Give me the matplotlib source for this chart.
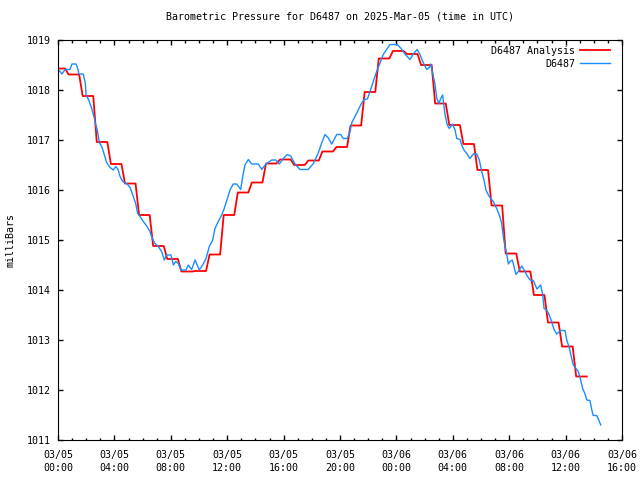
import datetime as dt
import matplotlib
matplotlib.use('Agg')
import matplotlib.pyplot as plt
import matplotlib.dates as mdates

# hourly analysis values (hour 0 .. 37 after 2025-03-05 00:00 UTC)
analysis_mb = [1018.43, 1018.31, 1017.88, 1016.96, 1016.52, 1016.13, 1015.50, 1014.88,
               1014.62, 1014.37, 1014.38, 1014.71, 1015.50, 1015.95, 1016.15, 1016.53,
               1016.61, 1016.50, 1016.59, 1016.77, 1016.86, 1017.29, 1017.96, 1018.63,
               1018.78, 1018.72, 1018.50, 1017.73, 1017.30, 1016.92, 1016.40, 1015.69,
               1014.73, 1014.37, 1013.90, 1013.35, 1012.87, 1012.27]

# station observations: hours after 2025-03-05 00:00 UTC, pressure in mb
obs_hours = [0.02, 0.28, 0.50, 0.85, 0.99, 1.28, 1.42, 1.47, 1.79, 1.94, 1.99, 2.18,
             2.39, 2.55, 2.67, 2.79, 2.93, 3.10, 3.26, 3.45, 3.69, 3.92, 4.09, 4.26,
             4.40, 4.59, 4.91, 5.11, 5.34, 5.51, 5.65, 5.82, 6.05, 6.29, 6.52, 6.69,
             6.88, 7.11, 7.35, 7.54, 7.71, 8.01, 8.18, 8.35, 8.53, 8.72, 9.08, 9.24,
             9.48, 9.72, 10.02, 10.26, 10.50, 10.73, 10.97, 11.13, 11.37, 11.61, 11.79, 12.01,
             12.20, 12.43, 12.67, 12.96, 13.10, 13.26, 13.50, 13.74, 14.21, 14.45, 14.75, 15.16,
             15.46, 15.70, 15.98, 16.26, 16.50, 16.81, 17.16, 17.75, 18.11, 18.46, 18.70, 18.94,
             19.17, 19.41, 19.77, 20.05, 20.23, 20.52, 20.71, 20.83, 21.06, 21.30, 21.54, 21.72,
             21.94, 22.13, 22.36, 22.60, 22.84, 23.07, 23.31, 23.55, 24.06, 24.30, 24.61, 24.96,
             25.25, 25.48, 25.67, 25.91, 26.15, 26.33, 26.43, 26.57, 26.74, 26.86, 27.02, 27.14,
             27.28, 27.45, 27.61, 27.75, 27.99, 28.16, 28.28, 28.51, 28.63, 28.79, 28.99, 29.22,
             29.45, 29.70, 29.88, 30.05, 30.21, 30.35, 30.52, 30.69, 30.87, 31.11, 31.30, 31.47,
             31.58, 31.70, 31.82, 31.94, 32.06, 32.22, 32.34, 32.48, 32.65, 32.89, 33.12, 33.28,
             33.48, 33.71, 33.97, 34.23, 34.38, 34.47, 34.66, 34.84, 35.01, 35.18, 35.37, 35.65,
             35.96, 36.08, 36.26, 36.43, 36.55, 36.74, 36.90, 37.07, 37.21, 37.38, 37.50, 37.73,
             37.85, 37.96, 38.21, 38.35, 38.49]
obs_mb = [1018.41, 1018.32, 1018.41, 1018.41, 1018.52, 1018.52, 1018.41, 1018.32, 1018.32, 1018.13, 1017.90, 1017.80,
          1017.63, 1017.47, 1017.31, 1017.20, 1016.95, 1016.87, 1016.73, 1016.55, 1016.45, 1016.40, 1016.47, 1016.41,
          1016.27, 1016.17, 1016.12, 1016.05, 1015.87, 1015.73, 1015.53, 1015.47, 1015.37, 1015.28, 1015.17, 1015.03,
          1014.93, 1014.87, 1014.77, 1014.60, 1014.70, 1014.70, 1014.50, 1014.57, 1014.53, 1014.40, 1014.40, 1014.50,
          1014.41, 1014.60, 1014.40, 1014.50, 1014.63, 1014.87, 1015.00, 1015.23, 1015.37, 1015.50, 1015.63, 1015.83,
          1016.00, 1016.12, 1016.12, 1016.01, 1016.27, 1016.50, 1016.61, 1016.52, 1016.52, 1016.41, 1016.52, 1016.60,
          1016.60, 1016.52, 1016.63, 1016.71, 1016.68, 1016.52, 1016.41, 1016.41, 1016.53, 1016.74, 1016.94, 1017.11,
          1017.04, 1016.92, 1017.11, 1017.11, 1017.03, 1017.03, 1017.17, 1017.34, 1017.47, 1017.61, 1017.74, 1017.81,
          1017.82, 1017.97, 1018.17, 1018.37, 1018.54, 1018.71, 1018.81, 1018.91, 1018.91, 1018.84, 1018.72, 1018.61,
          1018.74, 1018.81, 1018.71, 1018.54, 1018.41, 1018.45, 1018.52, 1018.34, 1018.11, 1017.84, 1017.73, 1017.83,
          1017.90, 1017.50, 1017.30, 1017.23, 1017.32, 1017.20, 1017.03, 1017.01, 1016.90, 1016.80, 1016.73, 1016.63,
          1016.72, 1016.72, 1016.60, 1016.37, 1016.20, 1016.00, 1015.90, 1015.83, 1015.77, 1015.63, 1015.50, 1015.33,
          1015.07, 1014.87, 1014.73, 1014.52, 1014.57, 1014.60, 1014.47, 1014.31, 1014.37, 1014.48, 1014.37, 1014.28,
          1014.20, 1014.19, 1014.02, 1014.10, 1013.90, 1013.63, 1013.60, 1013.50, 1013.37, 1013.21, 1013.12, 1013.19,
          1013.19, 1013.00, 1012.85, 1012.63, 1012.50, 1012.43, 1012.37, 1012.20, 1012.03, 1011.92, 1011.80, 1011.79,
          1011.61, 1011.49, 1011.49, 1011.40, 1011.30]

start = dt.datetime(2025, 3, 5, 0, 0)
station = 'D6487'

# analysis: each hourly value held from h-0.25 to h+0.5 (ramps between)
an_t, an_v = [], []
for i, v in enumerate(analysis_mb):
    for h in (max(i - 0.25, 0), i + 0.5):
        an_t.append(start + dt.timedelta(hours=h))
        an_v.append(v)
obs_t = [start + dt.timedelta(hours=h) for h in obs_hours]

plt.rcParams['font.family'] = ['DejaVu Sans Mono']
plt.rcParams['font.size'] = 7.2

fig = plt.figure(figsize=(6.4, 4.8), dpi=100)
ax = fig.add_axes([58 / 640, 40 / 480, 564 / 640, 400 / 480])

ax.plot(an_t, an_v, color='#ff0000', linewidth=1.3, label=f'{station} Analysis')
ax.plot(obs_t, obs_mb, color='#1a8cff', linewidth=1.0, label=station)

ax.set_xlim(start, start + dt.timedelta(hours=40))
ax.set_ylim(1011, 1019)
ax.set_yticks(range(1011, 1020))
ax.xaxis.set_major_locator(mdates.HourLocator(byhour=range(0, 24, 4)))
ax.xaxis.set_minor_locator(mdates.HourLocator())
ax.xaxis.set_major_formatter(mdates.DateFormatter('%m/%d\n%H:%M'))
ax.tick_params(which='both', direction='in', top=True, right=True, colors='black',
               labelsize=7.2)
ax.tick_params(which='major', length=3.3, width=1)
ax.tick_params(which='minor', length=1.8, width=1)
ax.tick_params(axis='x', pad=7)
ax.tick_params(axis='y', pad=5)

ax.set_ylabel('milliBars', fontsize=7.2, labelpad=8)
ax.set_title(f'Barometric Pressure for {station} on 2025-Mar-05 (time in UTC)',
             fontsize=7.2, pad=15)
ax.legend(loc='upper right', bbox_to_anchor=(0.986, 0.995), frameon=False, markerfirst=False,
          handlelength=3.0, handletextpad=0.5, labelspacing=0.3, borderaxespad=0,
          fontsize=7.2)

fig.canvas.draw()
for lbl in ax.get_xticklabels():
    lbl.set_linespacing(1.35)

fig.savefig('out.png', dpi=100)
